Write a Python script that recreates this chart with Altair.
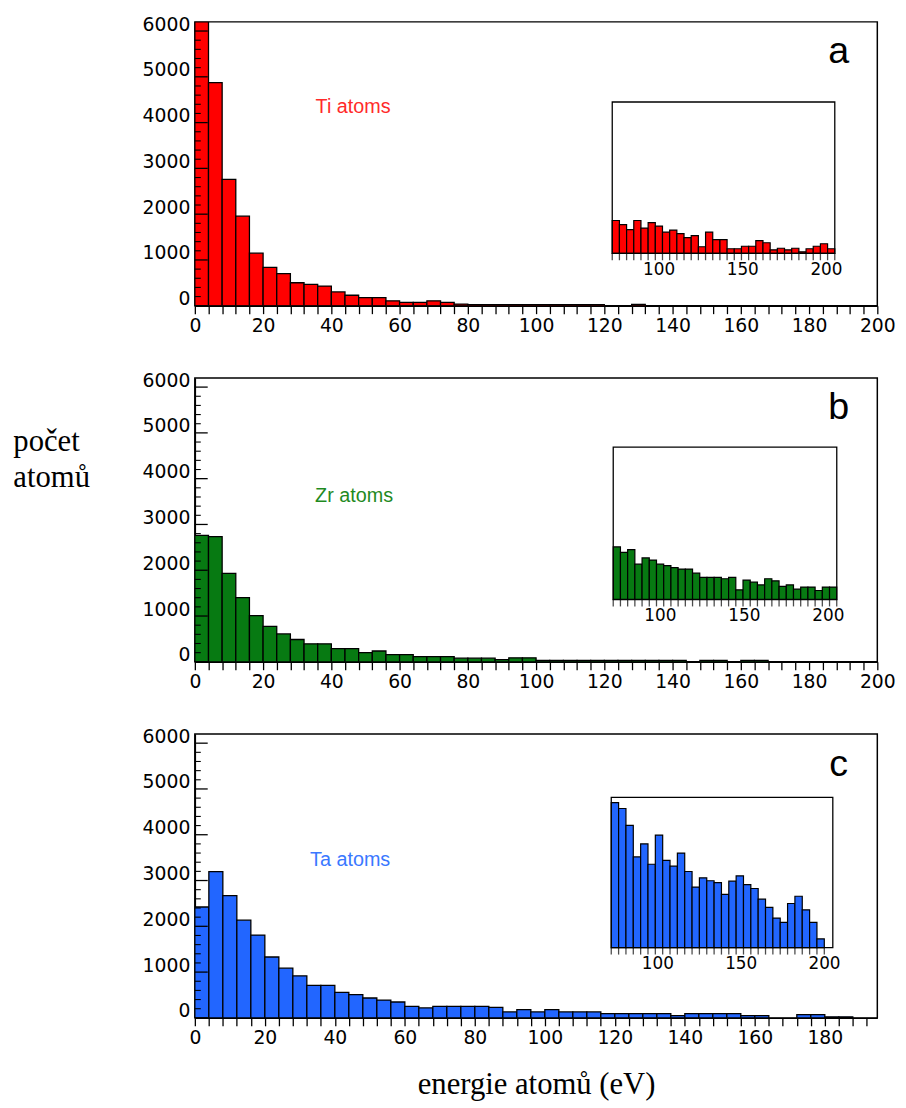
import altair as alt
import pandas as pd

# ---- data -------------------------------------------------------------
BIN = 4  # eV per bin of the main histograms (bins start at 0)

# counts per 4 eV bin, 0-200 eV (first Ti bin runs off the top of the axis)
ti_counts = [6200, 4875, 2760, 1957, 1147, 839, 703, 502, 466, 430,
             301, 229, 179, 179, 108, 72, 72, 108, 72, 36,
             22, 22, 22, 22, 22, 22, 22, 22, 22, 22,
             0, 0, 30, 0, 0, 0, 0, 0, 0, 0,
             0, 0, 0, 0, 0, 0, 0, 0, 0, 0]
zr_counts = [2763, 2734, 1933, 1403, 1009, 773, 608, 487, 394, 394,
             286, 286, 200, 236, 157, 157, 115, 115, 115, 79,
             79, 79, 50, 86, 86, 30, 30, 30, 30, 30,
             30, 30, 30, 30, 30, 30, 0, 30, 30, 0,
             30, 30, 0, 0, 0, 0, 0, 0, 0, 0]
# 0-192 eV
ta_counts = [2422, 3196, 2668, 2133, 1808, 1330, 1085, 918, 709, 709,
             557, 506, 434, 390, 347, 253, 217, 253, 253, 253,
             253, 231, 130, 181, 130, 181, 130, 130, 130, 94,
             94, 94, 94, 94, 50, 94, 94, 94, 94, 50,
             50, 0, 0, 72, 72, 22, 22, 0]

# inset histograms (high-energy tail, magnified)
INSET_LO, INSET_HI = 72, 205
ti_inset = [65, 57, 47, 65, 50, 61, 54, 42, 46, 39, 31, 35, 13, 42, 27, 27,
            9, 9, 14, 14, 25, 21, 7, 10, 7, 10, 3, 9, 14, 19, 9]
zr_inset = [76, 68, 72, 51, 60, 57, 51, 49, 46, 44, 44, 38, 32, 32, 32, 30,
            32, 14, 28, 25, 21, 30, 27, 19, 21, 15, 18, 18, 13, 18, 18]
ta_inset = [299, 287, 252, 187, 214, 172, 232, 180, 168, 195, 157, 125, 144,
            138, 134, 110, 137, 148, 130, 122, 100, 83, 61, 52, 91, 106, 78,
            52, 18]
inset_bin = {"Ti": 4.29, "Zr": 4.29, "Ta": 4.41}
inset_ymax = {"Ti": 300, "Zr": 220, "Ta": 310}
inset_labels = [100, 150, 200]

y_major = [0, 1000, 2000, 3000, 4000, 5000, 6000]
y_minor = [v for v in range(0, 6001, 200) if v % 1000 != 0]

# ---- layout / style ---------------------------------------------------
PLOT_W, PLOT_H = 690, 287
YMAX = 6200
LABEL_FONT = "DejaVu Sans"
TEXT_FONT = "Liberation Sans"
SERIF = "Liberation Serif"


def hist_frame(counts, lo, width):
    rows = [{"lo": lo + i * width, "hi": lo + (i + 1) * width, "n": c}
            for i, c in enumerate(counts) if c > 0]
    return pd.DataFrame(rows)


def panel(name, counts, inset_vals, color, text_color, letter, xmax,
          tick_max, label_max, name_pos, inset_box, ytitle=None, xtitle=None):
    xs = alt.Scale(domain=[0, xmax], nice=False, zero=False)
    ys = alt.Scale(domain=[0, YMAX], nice=False)

    x_axis = dict(values=list(range(0, tick_max + 1, BIN)),
                  labelExpr=f"datum.value % 20 === 0 && datum.value <= {label_max} ? datum.label : ''",
                  tickSize=8, tickWidth=1.3, tickColor="black",
                  labelFont=LABEL_FONT, labelFontSize=19, labelColor="black",
                  labelPadding=3, labelFlush=False, labelOverlap=False,
                  domainColor="black", domainWidth=1.5, grid=False, title=None)
    if xtitle:
        x_axis.update(title=xtitle, titleFont=SERIF, titleFontSize=31,
                      titleFontWeight="normal", titleColor="black",
                      titleBaseline="alphabetic", titleY=76)
    y_axis = dict(values=y_major, format="d", tickSize=0, labelFont=LABEL_FONT,
                  labelFontSize=19, labelColor="black", labelPadding=5,
                  labelOffset=-7, domainColor="black", domainWidth=1.5,
                  grid=False, title=None)
    if ytitle:
        y_axis.update(title=ytitle, titleAngle=0, titleAlign="left",
                      titleBaseline="top", titleX=-184, titleY=49,
                      titleFont=SERIF, titleFontSize=31,
                      titleFontWeight="normal", titleColor="black",
                      titleLineHeight=37)
    yenc = dict(scale=ys, axis=alt.Axis(**y_axis))

    bars = alt.Chart(hist_frame(counts, 0, BIN)).mark_bar(
        fill=color, stroke="black", strokeWidth=1.3, clip=True
    ).encode(
        x=alt.X("lo:Q", scale=xs, axis=alt.Axis(**x_axis)),
        x2="hi:Q",
        y=alt.Y("n:Q", **yenc),
        y2=alt.Y2(datum=0),
    )

    # inward ticks on the count axis
    major = alt.Chart(pd.DataFrame({"n": y_major})).mark_rule(
        color="black", strokeWidth=1.3
    ).encode(y=alt.Y("n:Q", **yenc), x=alt.value(0), x2=alt.value(13))
    minor = alt.Chart(pd.DataFrame({"n": y_minor})).mark_rule(
        color="black", strokeWidth=1.1
    ).encode(y=alt.Y("n:Q", **yenc), x=alt.value(0), x2=alt.value(6))

    species = alt.Chart(pd.DataFrame({"t": [f"{name} atoms"]})).mark_text(
        font=TEXT_FONT, fontSize=20, color=text_color, align="center",
        baseline="middle"
    ).encode(x=alt.value(name_pos[0]), y=alt.value(name_pos[1]), text="t:N")
    tag = alt.Chart(pd.DataFrame({"t": [letter]})).mark_text(
        font=TEXT_FONT, fontSize=38, color="black", align="center",
        baseline="alphabetic"
    ).encode(x=alt.value(651), y=alt.value(42), text="t:N")

    main = alt.layer(bars, major, minor, species, tag)

    # inset
    x0, x1, yb, yt = inset_box
    w = inset_bin[name]
    ymax_i = inset_ymax[name]
    ixs = alt.Scale(domain=[INSET_LO, INSET_HI], range=[x0, x1], nice=False, zero=False)
    iys = alt.Scale(domain=[0, ymax_i], range=[yb, yt], nice=False)
    idf = hist_frame(inset_vals, INSET_LO, w)

    ibars = alt.Chart(idf).mark_bar(
        fill=color, stroke="black", strokeWidth=1.2
    ).encode(
        x=alt.X("lo:Q", scale=ixs, axis=None), x2="hi:Q",
        y=alt.Y("n:Q", scale=iys, axis=None),
        y2=alt.Y2(datum=0),
    )
    edges = [INSET_LO + i * w for i in range(len(inset_vals) + 1)]
    iticks = alt.Chart(pd.DataFrame({"e": edges})).mark_tick(
        orient="vertical", size=7, thickness=1.3, yOffset=3.5, color="black"
    ).encode(x=alt.X("e:Q", scale=ixs, axis=None),
             y=alt.Y(datum=0, scale=iys, axis=None))
    iframe = alt.Chart(pd.DataFrame({"a": [0]})).mark_rect(
        fill="transparent", stroke="black", strokeWidth=1.3
    ).encode(x=alt.X(datum=INSET_LO, scale=ixs, axis=None),
             x2=alt.X2(datum=INSET_HI),
             y=alt.Y(datum=0, scale=iys, axis=None),
             y2=alt.Y2(datum=ymax_i))
    ilabels = alt.Chart(pd.DataFrame({"v": inset_labels})).mark_text(
        font=LABEL_FONT, fontSize=17, color="black", baseline="top", dy=9
    ).encode(x=alt.X("v:Q", scale=ixs, axis=None),
             y=alt.Y(datum=0, scale=iys, axis=None),
             text=alt.Text("v:Q"))
    inset = alt.layer(ibars, iframe, iticks, ilabels)

    return alt.layer(main, inset).resolve_scale(
        x="independent", y="independent"
    ).properties(width=PLOT_W, height=PLOT_H)


pa = panel("Ti", ti_counts, ti_inset, "#ff0000", "#ff2a2a", "a", 200, 200, 200,
           (160, 86), (422, 647, 234, 81))
pb = panel("Zr", zr_counts, zr_inset, "#077a12", "#1f8a1f", "b", 200, 200, 200,
           (161, 119), (423, 649, 224, 70), ytitle=["počet", "atomů"])
pc = panel("Ta", ta_counts, ta_inset, "#2266ff", "#3a78ff", "c", 195, 192, 180,
           (157, 127), (421, 645, 216, 64), xtitle="energie atomů (eV)")

chart = alt.vconcat(pa, pb, pc, spacing=73, bounds="flush").properties(
    padding={"left": 12, "top": 8, "right": 10, "bottom": 2},
    background="white",
).configure_view(stroke="black", strokeWidth=1.5)

chart.save("out.html", embed_options={"renderer": "svg", "actions": False})
